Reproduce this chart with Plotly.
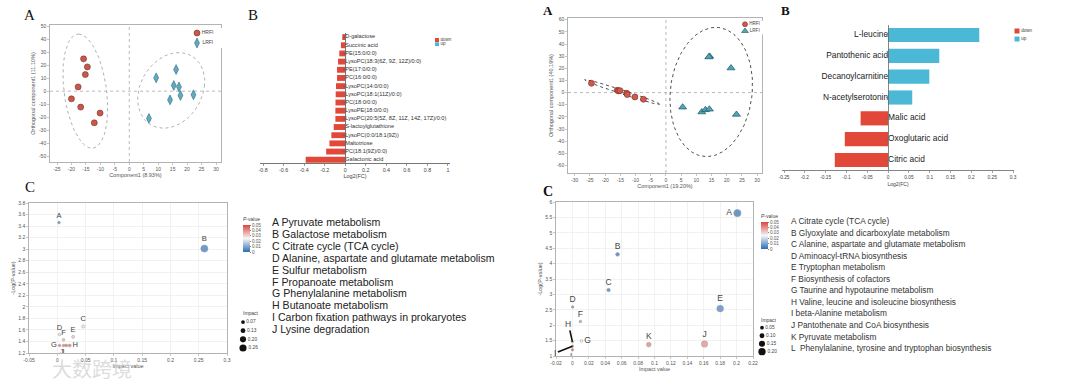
import numpy as np
import plotly.graph_objects as go

W, H = 1080, 387
FONT = "Liberation Sans, Arial, sans-serif"
SERIF = "Liberation Serif, Times New Roman, serif"

# ---------------- data ----------------
# Panel A (left): OPLS-DA scores
pca1_hrfi_x = [-15.8, -14.5, -15.2, -17.7, -20.0, -16.8, -12.1, -10.1]
pca1_hrfi_y = [24.9, 18.7, 12.8, 3.3, -5.9, -12.3, -24.4, -16.9]
pca1_lrfi_x = [9.3, 16.2, 15.4, 17.2, 17.7, 22.2, 14.1, 6.8]
pca1_lrfi_y = [10.3, 16.7, 4.4, 3.3, -3.3, -2.8, -6.7, -21.0]
# confidence ellipses: centre x, centre y, axis-1 (dx, dy), axis-2 (dx, dy)
ell1_hrfi = [-15.2, 0.0, -2.3, 44.0, 7.4, 0.0]
ell1_lrfi = [14.5, 0.6, 11.5, 3.0, 1.5, 29.0]

# Panel B (left): Log2(FC)
bar1_names = ["D-galactose", "Succinic acid", "PE(15:0/0:0)", "LysoPC(18:3(6Z, 9Z, 12Z)/0:0)",
              "PE(17:0/0:0)", "PC(16:0/0:0)", "LysoPC(14:0/0:0)", "LysoPC(18:1(11Z)/0:0)",
              "PC(18:0/0:0)", "LysoPE(18:0/0:0)", "LysoPC(20:5(5Z, 8Z, 11Z, 14Z, 17Z)/0:0)",
              "S-lactoylglutathione", "LysoPC(0:0/18:1(9Z))", "Maltotriose", "PC(18:1(9Z)/0:0)",
              "Galactonic acid"]
bar1_fc = [-0.029, -0.042, -0.058, -0.07, -0.08, -0.08, -0.09, -0.093, -0.095, -0.096, -0.096,
           -0.112, -0.135, -0.154, -0.186, -0.385]

# Panel A (right): OPLS-DA scores
pca2_hrfi_x = [-24.5, -16.0, -15.6, -15.1, -12.9, -12.7, -10.2, -7.4]
pca2_hrfi_y = [7.7, 1.9, 1.4, 1.6, -0.5, -1.6, -3.6, -5.5]
pca2_lrfi_x = [14.4, 14.1, 21.4, 5.5, 11.8, 13.0, 14.3, 23.2]
pca2_lrfi_y = [29.8, 29.3, 20.2, -12.0, -16.0, -14.2, -13.7, -18.0]
ell2_lrfi = [14.9, 0.5, 13.5, 0.0, 1.5, 53.2]
ell2_hrfi = [-14.4, 0.5, 12.3, -10.1, 0.2, 1.6]

# Panel B (right): Log2(FC)
bar2_names = ["L-leucine", "Pantothenic acid", "Decanoylcarnitine", "N-acetylserotonin",
              "Malic acid", "Oxoglutaric acid", "Citric acid"]
bar2_fc = [0.219, 0.123, 0.099, 0.058, -0.066, -0.104, -0.128]

# Panel C (left): pathway bubbles
bub1_lab = ["A", "B", "C", "D", "E", "F", "G", "H", "I", "J"]
bub1_impact = [0.003, 0.26, 0.046, 0.004, 0.028, 0.011, 0.004, 0.022, 0.011, 0.016]
bub1_logp = [3.46, 3.01, 1.66, 1.52, 1.48, 1.43, 1.33, 1.33, 1.33, 1.33]
bub1_p = [0.0003, 0.001, 0.022, 0.030, 0.033, 0.037, 0.047, 0.047, 0.047, 0.047]
bub1_names = ["Pyruvate metabolism", "Galactose metabolism", "Citrate cycle (TCA cycle)",
              "Alanine, aspartate and glutamate metabolism", "Sulfur metabolism",
              "Propanoate metabolism", "Phenylalanine metabolism", "Butanoate metabolism",
              "Carbon fixation pathways in prokaryotes", "Lysine degradation"]
size1_legend = [0.07, 0.13, 0.20, 0.26]

# Panel C (right): pathway bubbles
bub2_lab = ["A", "B", "C", "D", "E", "F", "G", "H", "I", "J", "K", "L"]
bub2_impact = [0.201, 0.055, 0.044, 0.0003, 0.18, 0.0097, 0.011, 0.0, 0.0, 0.161, 0.093, 0.0]
bub2_logp = [5.64, 4.30, 3.14, 2.59, 2.54, 2.12, 1.49, 1.46, 1.32, 1.39, 1.37, 1.2]
bub2_p = [0.000002, 0.00005, 0.0007, 0.0026, 0.0029, 0.0076, 0.026, 0.035, 0.048, 0.041, 0.043, 0.05]
bub2_names = ["Citrate cycle (TCA cycle)", "Glyoxylate and dicarboxylate metabolism",
              "Alanine, aspartate and glutamate metabolism", "Aminoacyl-tRNA biosynthesis",
              "Tryptophan metabolism", "Biosynthesis of cofactors",
              "Taurine and hypotaurine metabolism", "Valine, leucine and isoleucine biosynthesis",
              "beta-Alanine metabolism", "Pantothenate and CoA biosynthesis",
              "Pyruvate metabolism", " Phenylalanine, tyrosine and tryptophan biosynthesis"]
size2_legend = [0.05, 0.10, 0.15, 0.20]

# ---------------- styles ----------------
RED = "#c8584c"
BLUE_D = "#62aac2"
BAR_RED = "#e2483a"
BAR_BLUE = "#4bb8d6"
PSCALE = [[0, "#2b6db5"], [0.5, "#f7f7f7"], [1, "#d6473f"]]


def xdom(a, b):
    return [a / W, b / W]


def ydom(top, bottom):
    return [1 - bottom / H, 1 - top / H]


def axn(i):
    return ("xaxis", "yaxis") if i == 1 else (f"xaxis{i}", f"yaxis{i}")


def axr(i):
    return ("x", "y") if i == 1 else (f"x{i}", f"y{i}")


def ellipse(e, n=160):
    t = np.linspace(0, 2 * np.pi, n)
    cx, cy, ux, uy, vx, vy = e
    return cx + ux * np.cos(t) + vx * np.sin(t), cy + uy * np.cos(t) + vy * np.sin(t)


def frame(**kw):
    d = dict(showline=True, linecolor="#a0a0a0", linewidth=0.8, mirror=True, ticks="outside",
             ticklen=2, tickwidth=0.6, tickcolor="#a0a0a0", tickfont=dict(size=5, color="#555"),
             showgrid=False, zeroline=False, title_font=dict(size=5.5, color="#555"),
             title_standoff=2, fixedrange=True)
    d.update(kw)
    return d


def ticks_of(vals, fmt=None):
    txt = [(fmt(v) if fmt else f"{v:g}") for v in vals]
    return dict(tickmode="array", tickvals=vals, ticktext=txt)


fig = go.Figure()
L = {}
shapes = []
annos = []

# ======== Panel 1: left OPLS-DA ========
xa, ya = axr(1)
for e in (ell1_hrfi, ell1_lrfi):
    ex, ey = ellipse(e)
    fig.add_trace(go.Scatter(x=ex, y=ey, mode="lines", xaxis=xa, yaxis=ya, hoverinfo="skip",
                             line=dict(color="#9c9c9c", width=0.8, dash="dot"), showlegend=False))
fig.add_trace(go.Scatter(x=pca1_hrfi_x, y=pca1_hrfi_y, mode="markers", xaxis=xa, yaxis=ya,
                         marker=dict(symbol="circle", size=6, color=RED, line=dict(color="#7b2d25", width=0.6)),
                         showlegend=False))
fig.add_trace(go.Scatter(x=pca1_lrfi_x, y=pca1_lrfi_y, mode="markers", xaxis=xa, yaxis=ya,
                         marker=dict(symbol="diamond-tall", size=7, color=BLUE_D, line=dict(color="#2c6a7f", width=0.6)),
                         showlegend=False))
L["xaxis"] = frame(domain=xdom(50, 221), range=[-27.42, 31.73], anchor="y",
                   title_text="Component1 (8.93%)", **ticks_of(list(range(-25, 31, 5))))
L["yaxis"] = frame(domain=ydom(25, 162), range=[-54.6, 51], anchor="x",
                   title_text="Orthogonal component1 (11.10%)", **ticks_of(list(range(-50, 51, 10))))
shapes.append(dict(type="line", xref="x", yref="y domain", x0=0, x1=0, y0=0, y1=1,
                   line=dict(color="#a8a8a8", width=0.8, dash="dot"), layer="below"))
shapes.append(dict(type="line", xref="x domain", yref="y", x0=0, x1=1, y0=0, y1=0,
                   line=dict(color="#a8a8a8", width=0.8, dash="dot"), layer="below"))

# ======== Panel 2: left bars ========
xa, ya = axr(2)
fig.add_trace(go.Bar(x=bar1_fc, y=bar1_names, orientation="h", xaxis=xa, yaxis=ya, width=0.72,
                     marker=dict(color=BAR_RED, line=dict(width=0)), showlegend=False))
fig.add_trace(go.Scatter(x=[0] * len(bar1_names), y=bar1_names, mode="text", text=bar1_names,
                         textposition="middle right", textfont=dict(size=5.6, color="#333"),
                         xaxis=xa, yaxis=ya, showlegend=False, hoverinfo="skip"))
r2 = [-0.83, 1.02]
d2 = xdom(260, 450)
L["xaxis2"] = dict(domain=d2, range=r2, anchor="y2", showline=True, linecolor="#555", linewidth=0.8,
                   ticks="outside", ticklen=2, tickwidth=0.6, tickcolor="#555",
                   tickfont=dict(size=5.3, color="#444"), showgrid=False, zeroline=False,
                   title_text="Log2(FC)", title_font=dict(size=5.5, color="#444"), title_standoff=1,
                   fixedrange=True,
                   **ticks_of([-0.8, -0.6, -0.4, -0.2, 0, 0.2, 0.4, 0.6, 0.8, 1]))
L["yaxis2"] = dict(domain=ydom(33, 163), type="category", range=[15.4, -0.5], anchor="free",
                   position=d2[0] + (0 - r2[0]) / (r2[1] - r2[0]) * (d2[1] - d2[0]),
                   showline=True, linecolor="#555", linewidth=0.8, ticks="outside", ticklen=2,
                   tickwidth=0.6, tickcolor="#555", showticklabels=False, showgrid=False,
                   zeroline=False, fixedrange=True)

# ======== Panel 3: right OPLS-DA ========
xa, ya = axr(3)
for e in (ell2_lrfi, ell2_hrfi):
    ex, ey = ellipse(e)
    fig.add_trace(go.Scatter(x=ex, y=ey, mode="lines", xaxis=xa, yaxis=ya, hoverinfo="skip",
                             line=dict(color="#3a3a3a", width=0.9, dash="dot"), showlegend=False))
fig.add_trace(go.Scatter(x=pca2_hrfi_x, y=pca2_hrfi_y, mode="markers", xaxis=xa, yaxis=ya,
                         marker=dict(symbol="circle", size=6, color="#d0594b", line=dict(color="#7b2d25", width=0.6)),
                         showlegend=False))
fig.add_trace(go.Scatter(x=pca2_lrfi_x, y=pca2_lrfi_y, mode="markers", xaxis=xa, yaxis=ya,
                         marker=dict(symbol="triangle-up", size=7, color="#4ea6b8", line=dict(color="#1f5461", width=0.7)),
                         showlegend=False))
L["xaxis3"] = frame(domain=xdom(568, 762), range=[-32.2, 31.6], anchor="y3",
                    title_text="Component1 (19.20%)", **ticks_of(list(range(-30, 31, 5))))
L["yaxis3"] = frame(domain=ydom(18, 173), range=[-66.2, 61.4], anchor="x3",
                    title_text="Orthogonal component1 (40.19%)", **ticks_of(list(range(-60, 61, 10))))
shapes.append(dict(type="line", xref="x3", yref="y3 domain", x0=0, x1=0, y0=0, y1=1,
                   line=dict(color="#a8a8a8", width=0.8, dash="dot"), layer="below"))
shapes.append(dict(type="line", xref="x3 domain", yref="y3", x0=0, x1=1, y0=0, y1=0,
                   line=dict(color="#a8a8a8", width=0.8, dash="dot"), layer="below"))

# ======== Panel 4: right bars ========
xa, ya = axr(4)
fig.add_trace(go.Bar(x=bar2_fc, y=bar2_names, orientation="h", xaxis=xa, yaxis=ya, width=0.68,
                     marker=dict(color=[BAR_BLUE if v > 0 else BAR_RED for v in bar2_fc], line=dict(width=0)),
                     showlegend=False))
up_n = [n for n, v in zip(bar2_names, bar2_fc) if v > 0]
dn_n = [n for n, v in zip(bar2_names, bar2_fc) if v <= 0]
fig.add_trace(go.Scatter(x=[0] * len(up_n), y=up_n, mode="text", text=up_n, textposition="middle left",
                         textfont=dict(size=8.4, color="#222"), xaxis=xa, yaxis=ya, showlegend=False,
                         hoverinfo="skip"))
fig.add_trace(go.Scatter(x=[0] * len(dn_n), y=dn_n, mode="text", text=dn_n, textposition="middle right",
                         textfont=dict(size=8.4, color="#222"), xaxis=xa, yaxis=ya, showlegend=False,
                         hoverinfo="skip"))
r4 = [-0.2548, 0.3024]
d4 = xdom(782, 1014)
L["xaxis4"] = dict(domain=d4, range=r4, anchor="y4", showline=True, linecolor="#666", linewidth=0.8,
                   ticks="outside", ticklen=2, tickwidth=0.6, tickcolor="#666",
                   tickfont=dict(size=4.8, color="#444"), showgrid=False, zeroline=False,
                   title_text="Log2(FC)", title_font=dict(size=5, color="#444"), title_standoff=3,
                   fixedrange=True,
                   **ticks_of([-0.25, -0.2, -0.15, -0.1, -0.05, 0, 0.05, 0.1, 0.15, 0.2, 0.25, 0.3]))
L["yaxis4"] = dict(domain=ydom(25, 170), type="category", range=[6.48, -0.48], anchor="free",
                   position=d4[0] + (0 - r4[0]) / (r4[1] - r4[0]) * (d4[1] - d4[0]),
                   showline=True, linecolor="#666", linewidth=0.8, ticks="outside", ticklen=2,
                   tickwidth=0.6, tickcolor="#666", showticklabels=False, showgrid=False,
                   zeroline=False, fixedrange=True)


# ======== Panels 5/6: bubbles ========
def bsize1(v):
    return 2.5 + 18 * np.asarray(v)


def bsize2(v):
    return 2.5 + 24 * np.asarray(v)


grid = dict(showgrid=True, gridcolor="#e9e9e9", gridwidth=0.6)

xa, ya = axr(5)
pos1 = ["top center"] * 6 + ["middle left", "middle right", "bottom center", "bottom left"]
fig.add_trace(go.Scatter(x=bub1_impact, y=bub1_logp, mode="markers+text", text=bub1_lab,
                         textposition=pos1, textfont=dict(size=7.5, color="#444"),
                         xaxis=xa, yaxis=ya, showlegend=False,
                         marker=dict(size=bsize1(bub1_impact), color=bub1_p, coloraxis="coloraxis",
                                     line=dict(color="#777", width=0.5))))
L["xaxis5"] = frame(domain=xdom(29, 227), range=[-0.05, 0.3], anchor="y5", title_text="Impact value",
                    **grid, **ticks_of([-0.05, 0, 0.05, 0.1, 0.15, 0.2, 0.25, 0.3]))
L["yaxis5"] = frame(domain=ydom(203, 353), range=[1.2, 3.8], anchor="x5", title_text="-Log(P-value)",
                    **grid, **ticks_of([round(1.2 + 0.2 * k, 1) for k in range(14)]))

xa, ya = axr(6)
lab2 = [l if l not in ("H", "I") else "" for l in bub2_lab]
pos2 = ["middle left"] + ["top center"] * 5 + ["middle right", "top center", "top center",
                                                  "top center", "top center", "bottom center"]
fig.add_trace(go.Scatter(x=bub2_impact, y=bub2_logp, mode="markers+text", text=lab2,
                         textposition=pos2, textfont=dict(size=8.5, color="#444"),
                         xaxis=xa, yaxis=ya, showlegend=False,
                         marker=dict(size=bsize2(bub2_impact), color=bub2_p, coloraxis="coloraxis2",
                                     line=dict(color="#777", width=0.5))))
for lab, (ax_, ay_) in (("H", (-4, -18)), ("I", (-17, 7))):
    k = bub2_lab.index(lab)
    annos.append(dict(x=bub2_impact[k], y=bub2_logp[k], xref="x6", yref="y6", text=lab,
                      showarrow=True, arrowhead=0, arrowwidth=1.6, arrowcolor="#111", ax=ax_, ay=ay_,
                      standoff=0, font=dict(size=8.5, color="#444")))
L["xaxis6"] = frame(domain=xdom(556, 753), range=[-0.02, 0.22], anchor="y6", title_text="Impact value",
                    **grid, **ticks_of([round(-0.02 + 0.02 * k, 2) for k in range(13)]))
L["yaxis6"] = frame(domain=ydom(202, 356), range=[1, 6], anchor="x6", title_text="-Log(P-value)",
                    **grid, **ticks_of([1 + 0.5 * k for k in range(11)]))

cb_common = dict(lenmode="pixels", thickness=7, outlinewidth=0, xanchor="left", yanchor="middle",
                 xpad=0, ypad=0, ticks="outside", ticklen=1.5, tickcolor="#888",
                 tickfont=dict(size=4.6, color="#555"),
                 tickvals=[0, 0.01, 0.02, 0.03, 0.04, 0.05],
                 ticktext=["0", "0.01", "0.02", "0.03", "0.04", "0.05"],
                 title=dict(text="<i>P</i>-value", side="top", font=dict(size=5, color="#444")))
L["coloraxis"] = dict(cmin=0, cmax=0.05, colorscale=PSCALE,
                      colorbar=dict(x=243 / W, y=1 - 233 / H, len=38, **cb_common))
L["coloraxis2"] = dict(cmin=0, cmax=0.05, colorscale=PSCALE,
                       colorbar=dict(x=761 / W, y=1 - 230 / H, len=38, **cb_common))


# ======== mini legends ========
def mini_legend(i, box, items, font_size, x_marker=4):
    x0, x1, top, bottom = box
    xa_, ya_ = axr(i)
    n = len(items)
    for k, (label, mk) in enumerate(items):
        fig.add_trace(go.Scatter(x=[x_marker], y=[k], mode="markers+text", text=[label],
                                 textposition="middle right", textfont=dict(size=font_size, color="#444"),
                                 marker=mk, xaxis=xa_, yaxis=ya_, showlegend=False, hoverinfo="skip"))
    xk, yk = axn(i)
    L[xk] = dict(domain=xdom(x0, x1), range=[0, x1 - x0], visible=False, anchor=ya_, fixedrange=True)
    L[yk] = dict(domain=ydom(top, bottom), range=[n - 0.5, -0.5], visible=False, anchor=xa_, fixedrange=True)


mini_legend(7, (193, 233, 28, 48), [
    ("HRFI", dict(symbol="circle", size=6, color=RED, line=dict(color="#7b2d25", width=0.6))),
    ("LRFI", dict(symbol="diamond-tall", size=7, color=BLUE_D, line=dict(color="#2c6a7f", width=0.6)))], 5)
mini_legend(8, (433, 473, 37.8, 46.5), [
    ("down", dict(symbol="square", size=4, color=BAR_RED)),
    ("up", dict(symbol="square", size=4, color=BAR_BLUE))], 4.5, x_marker=4)
mini_legend(9, (741, 781, 20.9, 34.4), [
    ("HRFI", dict(symbol="circle", size=5, color="#d0594b", line=dict(color="#7b2d25", width=0.6))),
    ("LRFI", dict(symbol="triangle-up", size=6, color="#4ea6b8", line=dict(color="#1f5461", width=0.6)))], 4.6)
mini_legend(10, (1013, 1053, 27, 43), [
    ("down", dict(symbol="square", size=5, color=BAR_RED)),
    ("up", dict(symbol="square", size=5, color=BAR_BLUE))], 4.6)
mini_legend(11, (239, 279, 317.7, 352.3),
            [(f"{v:.2f}", dict(symbol="circle", size=float(bsize1(v)), color="#111")) for v in size1_legend], 4.8)
mini_legend(12, (758, 798, 323.7, 355.7),
            [(f"{v:.2f}", dict(symbol="circle", size=float(bsize2(v)), color="#111")) for v in size2_legend], 4.8)
annos.append(dict(x=241 / W, y=1 - 313 / H, xref="paper", yref="paper", text="Impact", showarrow=False,
                  xanchor="left", yanchor="middle", font=dict(size=5, color="#444")))
annos.append(dict(x=759 / W, y=1 - 320 / H, xref="paper", yref="paper", text="Impact", showarrow=False,
                  xanchor="left", yanchor="middle", font=dict(size=5, color="#444")))

# ======== pathway name lists ========
for k, (lab, nm) in enumerate(zip(bub1_lab, bub1_names)):
    annos.append(dict(x=270 / W, y=1 - (222 + k * 11.9) / H, xref="paper", yref="paper",
                      text=f"{lab} {nm}", showarrow=False, xanchor="left", yanchor="middle",
                      font=dict(size=10.6, color="#222")))
for k, (lab, nm) in enumerate(zip(bub2_lab, bub2_names)):
    annos.append(dict(x=789 / W, y=1 - (221 + k * 11.55) / H, xref="paper", yref="paper",
                      text=f"{lab} {nm}", showarrow=False, xanchor="left", yanchor="middle",
                      font=dict(size=8.3, color="#333")))

# ======== panel letters ========
for txt, x, y, sz, bold in [("A", 29, 15, 15, False), ("B", 253, 15, 15, False), ("C", 30, 187, 15, False),
                            ("A", 548, 11, 13, True), ("B", 785, 10, 13, True), ("C", 548, 191, 14, True)]:
    annos.append(dict(x=x / W, y=1 - y / H, xref="paper", yref="paper", showarrow=False,
                      text=f"<b>{txt}</b>" if bold else txt, xanchor="center", yanchor="middle",
                      font=dict(family=SERIF, size=sz, color="#111")))

# watermark
annos.append(dict(x=50 / W, y=1 - 368 / H, xref="paper", yref="paper", showarrow=False, text="大数跨境",
                  xanchor="left", yanchor="middle",
                  font=dict(family="Noto Sans CJK SC", size=20, color="rgba(205,205,205,0.7)")))

L.update(dict(width=W, height=H, autosize=False,
              margin=dict(l=0, r=0, t=0, b=0, pad=0, autoexpand=False),
              paper_bgcolor="white", plot_bgcolor="white", font=dict(family=FONT, color="#444"),
              shapes=shapes, annotations=annos, bargap=0.2, showlegend=False))
fig.update_layout(**L)
fig.write_html("out.html", config={"displayModeBar": False, "staticPlot": True},
               post_script="document.body.style.margin='0';document.body.style.padding='0';"
                           "document.documentElement.style.overflow='hidden';")
